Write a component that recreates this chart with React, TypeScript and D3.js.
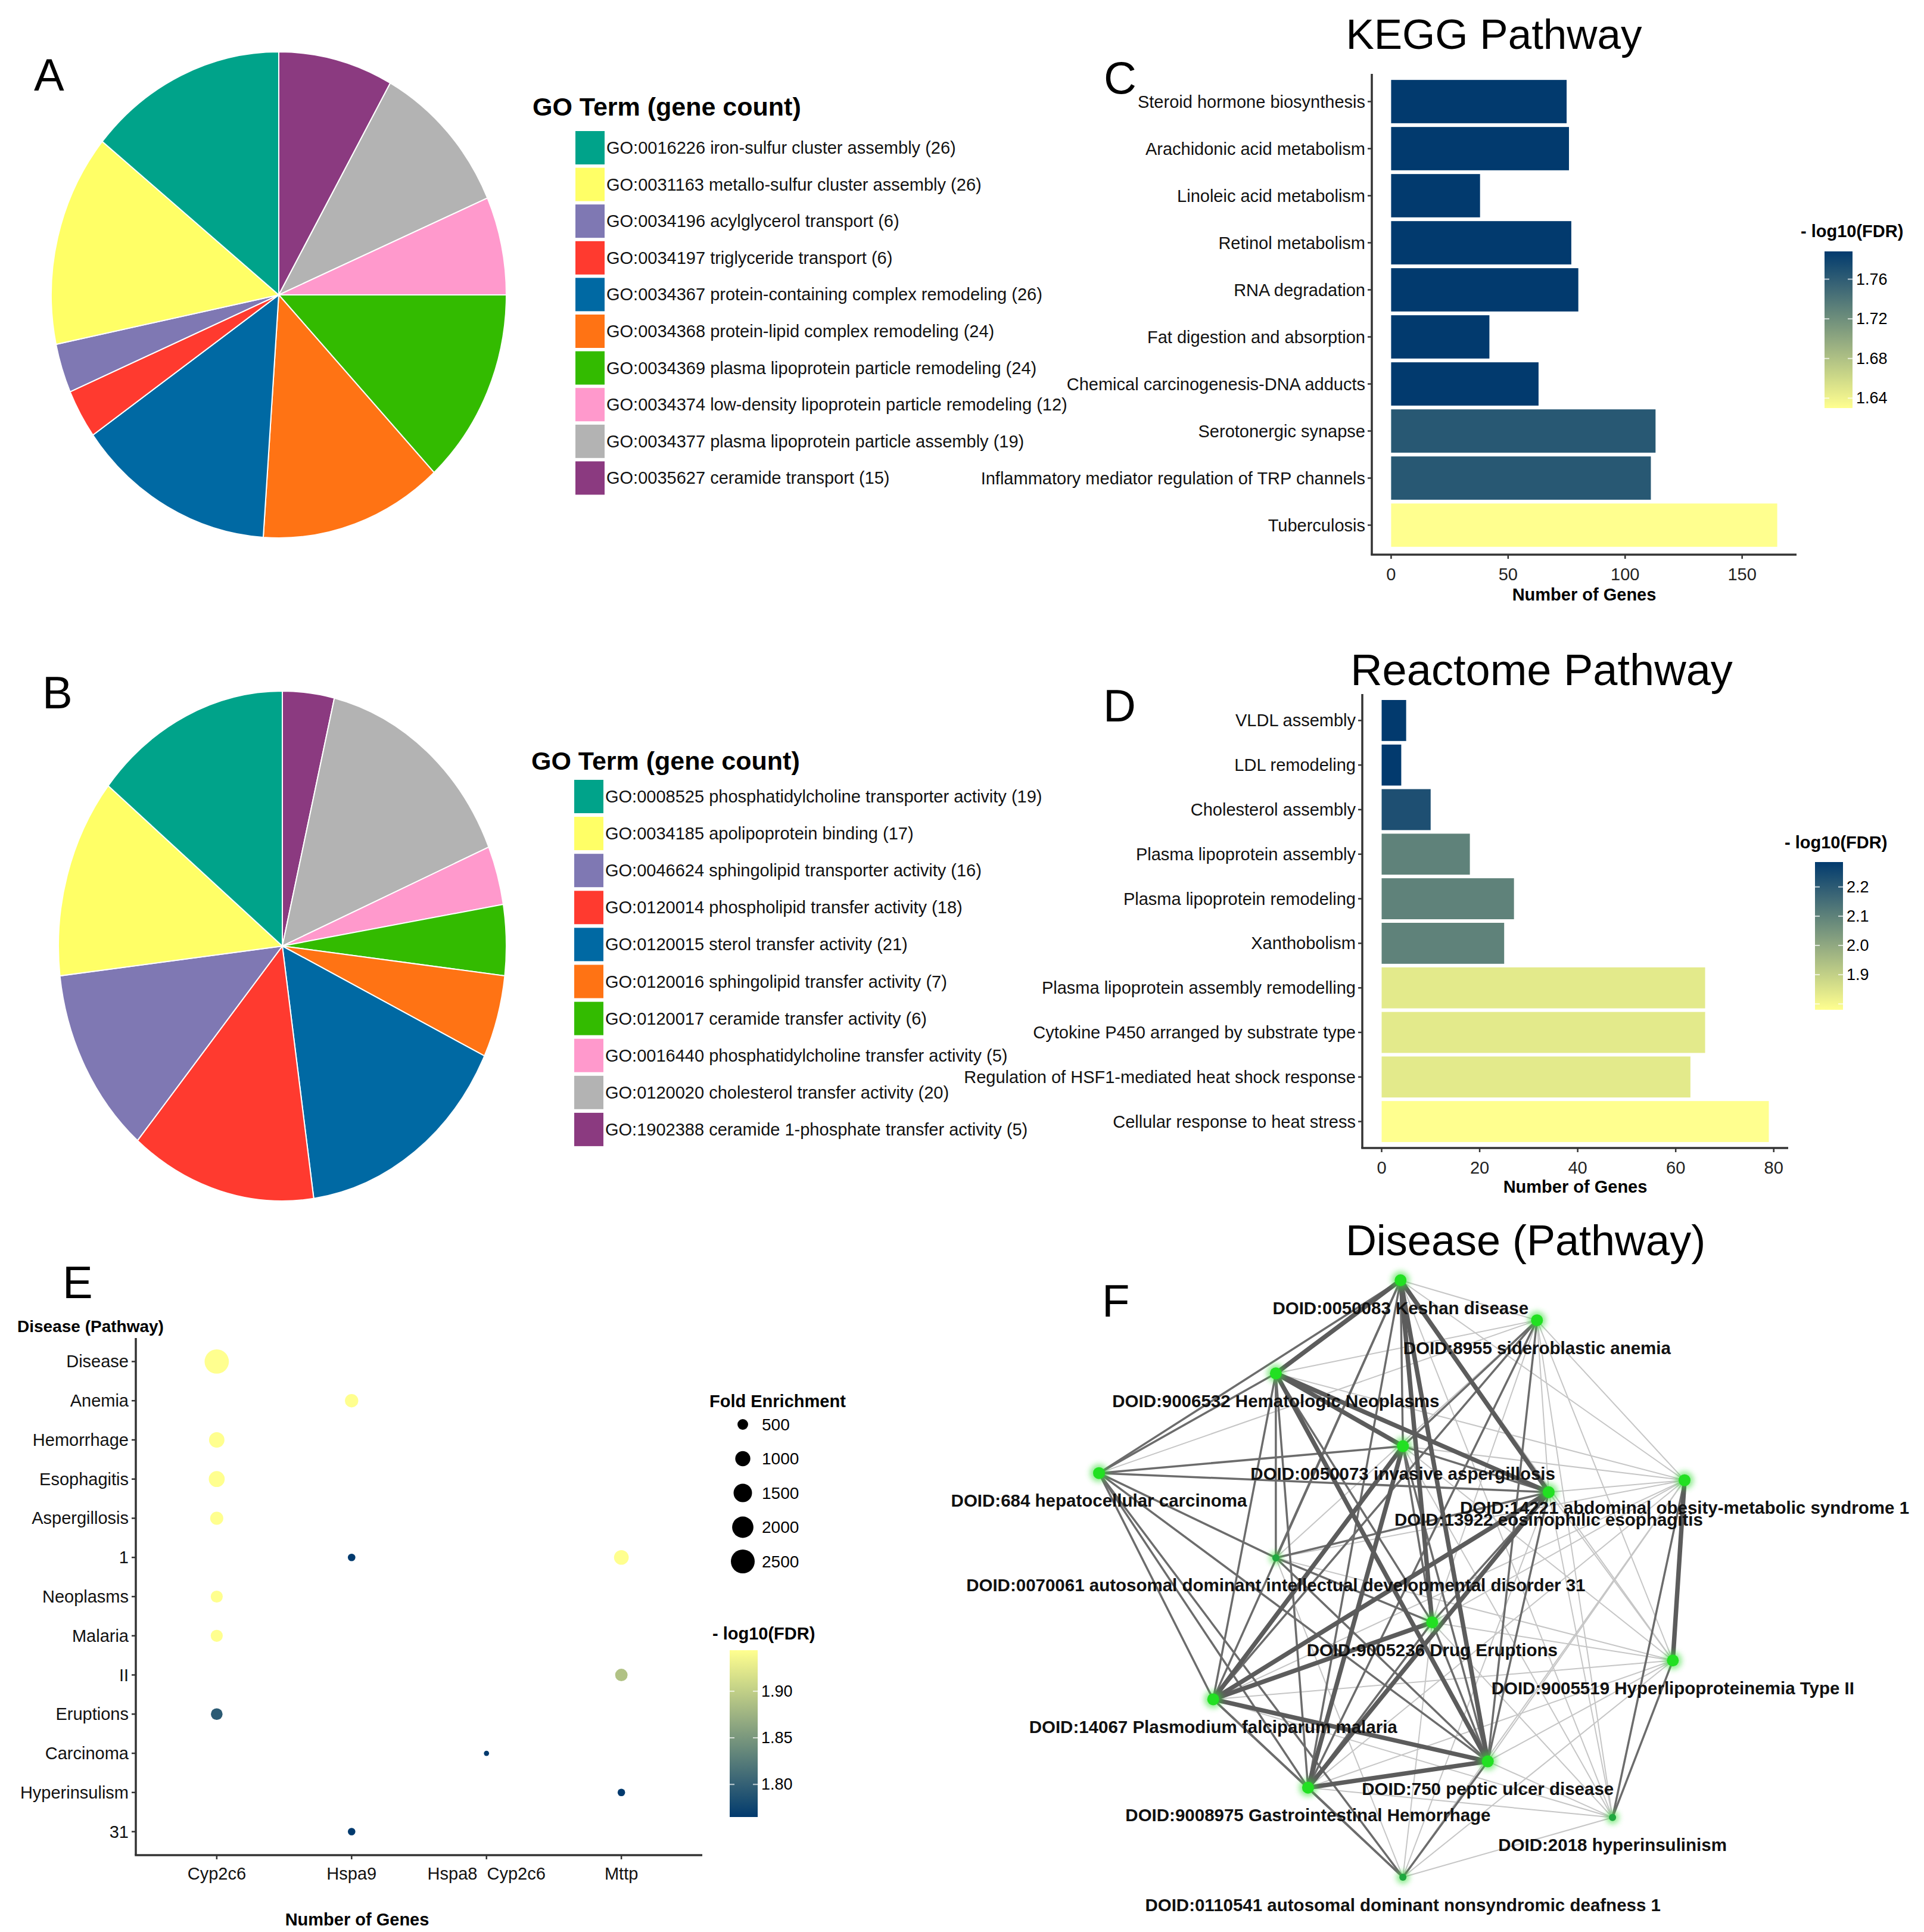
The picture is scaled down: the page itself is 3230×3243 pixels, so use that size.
import * as d3 from "d3";

const FONT = "'Liberation Sans', Arial, sans-serif";

// ---- A / B: GO term pies
const goTermsA = [
  "GO:0016226 iron-sulfur cluster assembly",
  "GO:0031163 metallo-sulfur cluster assembly",
  "GO:0034196 acylglycerol transport",
  "GO:0034197 triglyceride transport",
  "GO:0034367 protein-containing complex remodeling",
  "GO:0034368 protein-lipid complex remodeling",
  "GO:0034369 plasma lipoprotein particle remodeling",
  "GO:0034374 low-density lipoprotein particle remodeling",
  "GO:0034377 plasma lipoprotein particle assembly",
  "GO:0035627 ceramide transport",
];
const goCountsA = [26, 26, 6, 6, 26, 24, 24, 12, 19, 15];

const goTermsB = [
  "GO:0008525 phosphatidylcholine transporter activity",
  "GO:0034185 apolipoprotein binding",
  "GO:0046624 sphingolipid transporter activity",
  "GO:0120014 phospholipid transfer activity",
  "GO:0120015 sterol transfer activity",
  "GO:0120016 sphingolipid transfer activity",
  "GO:0120017 ceramide transfer activity",
  "GO:0016440 phosphatidylcholine transfer activity",
  "GO:0120020 cholesterol transfer activity",
  "GO:1902388 ceramide 1-phosphate transfer activity",
];
const goCountsB = [19, 17, 16, 18, 21, 7, 6, 5, 20, 5];

const pieColors = ["#00a38a", "#ffff66", "#7f78b3", "#ff3a2f", "#0069a3", "#ff7314", "#33bb00", "#ff99cc", "#b3b3b3", "#8b3a80"];

// ---- C: KEGG
const keggPathways = [
  "Steroid hormone biosynthesis",
  "Arachidonic acid metabolism",
  "Linoleic acid metabolism",
  "Retinol metabolism",
  "RNA degradation",
  "Fat digestion and absorption",
  "Chemical carcinogenesis-DNA adducts",
  "Serotonergic synapse",
  "Inflammatory mediator regulation of TRP channels",
  "Tuberculosis",
];
const keggGenes = [75, 76, 38, 77, 80, 42, 63, 113, 111, 165];
const keggFdr = [1.788, 1.788, 1.788, 1.788, 1.788, 1.788, 1.788, 1.764, 1.764, 1.63];
const keggTicks = [0, 50, 100, 150];
const keggFdrTicks = [1.64, 1.68, 1.72, 1.76];

// ---- D: Reactome
const reactomePathways = [
  "VLDL assembly",
  "LDL remodeling",
  "Cholesterol assembly",
  "Plasma lipoprotein assembly",
  "Plasma lipoprotein remodeling",
  "Xanthobolism",
  "Plasma lipoprotein assembly remodelling",
  "Cytokine P450 arranged by substrate type",
  "Regulation of HSF1-mediated heat shock response",
  "Cellular response to heat stress",
];
const reactomeGenes = [5, 4, 10, 18, 27, 25, 66, 66, 63, 79];
const reactomeFdr = [2.285, 2.285, 2.23, 2.1, 2.1, 2.1, 1.835, 1.835, 1.835, 1.78];
const reactomeTicks = [0, 20, 40, 60, 80];
const reactomeFdrTicks = [1.9, 2.0, 2.1, 2.2];

// ---- E: disease dot plot
const diseaseTerms = ["Disease", "Anemia", "Hemorrhage", "Esophagitis", "Aspergillosis", "1", "Neoplasms", "Malaria", "II", "Eruptions", "Carcinoma", "Hyperinsulism", "31"];
const diseaseGenes = ["Cyp2c6", "Hspa9", "Hspa8  Cyp2c6", "Mttp"];
const dotTerm = ["Disease", "Anemia", "Hemorrhage", "Esophagitis", "Aspergillosis", "1", "1", "Neoplasms", "Malaria", "II", "Eruptions", "Carcinoma", "Hyperinsulism", "31"];
const dotGene = ["Cyp2c6", "Hspa9", "Cyp2c6", "Cyp2c6", "Cyp2c6", "Hspa9", "Mttp", "Cyp2c6", "Cyp2c6", "Mttp", "Cyp2c6", "Hspa8  Cyp2c6", "Mttp", "Hspa9"];
const dotFold = [2600, 780, 1050, 1120, 760, 250, 950, 640, 640, 680, 600, 120, 250, 250];
const dotFdr = [1.944, 1.944, 1.944, 1.944, 1.944, 1.765, 1.944, 1.944, 1.944, 1.889, 1.795, 1.765, 1.765, 1.765];
const foldTicks = [500, 1000, 1500, 2000, 2500];
const dotFdrTicks = [1.8, 1.85, 1.9];

// ---- F: disease network (layout units 0-100)
const netNames = [
  "DOID:0050083 Keshan disease",
  "DOID:8955 sideroblastic anemia",
  "DOID:9006532 Hematologic Neoplasms",
  "DOID:0050073 invasive aspergillosis",
  "DOID:684 hepatocellular carcinoma",
  "DOID:14221 abdominal obesity-metabolic syndrome 1",
  "DOID:13922 eosinophilic esophagitis",
  "DOID:0070061 autosomal dominant intellectual developmental disorder 31",
  "DOID:9005236 Drug Eruptions",
  "DOID:9005519 Hyperlipoproteinemia Type II",
  "DOID:14067 Plasmodium falciparum malaria",
  "DOID:750 peptic ulcer disease",
  "DOID:9008975 Gastrointestinal Hemorrhage",
  "DOID:2018 hyperinsulinism",
  "DOID:0110541 autosomal dominant nonsyndromic deafness 1",
];
const netLayoutX = [51.5, 74.8, 30.2, 51.9, 0, 100, 76.8, 30.2, 56.9, 98, 19.5, 66.4, 35.7, 87.7, 51.9];
const netLayoutY = [0, 6.7, 15.6, 27.8, 32.3, 33.5, 35.5, 46.5, 57.3, 63.7, 70.2, 80.6, 85, 90, 100];
const netMinor = [7, 13, 14];
// [source, target, strength]
const netEdges: [number, number, number][] = [
  [5, 0, 1], [5, 1, 1], [5, 2, 1], [5, 3, 1], [5, 6, 1], [5, 8, 1], [5, 10, 1], [5, 11, 1], [5, 12, 1], [5, 7, 1],
  [9, 0, 1], [9, 1, 1], [9, 3, 1], [9, 6, 1], [9, 8, 1], [9, 10, 1], [9, 11, 1], [9, 12, 1], [9, 14, 1], [9, 7, 1],
  [13, 1, 1], [13, 3, 1], [13, 6, 1], [13, 8, 1], [13, 10, 1], [13, 11, 1], [13, 12, 1], [13, 14, 1], [13, 0, 1],
  [14, 6, 1], [14, 8, 1], [14, 7, 1], [1, 2, 1], [1, 4, 1], [1, 7, 1], [1, 8, 1], [1, 6, 1], [0, 1, 1], [5, 14, 1],
  [4, 0, 2], [4, 2, 2], [4, 3, 2], [4, 6, 2], [4, 7, 2], [4, 10, 2], [4, 12, 2], [4, 11, 2], [4, 14, 2],
  [0, 3, 2], [0, 12, 2], [0, 10, 2], [2, 10, 2], [2, 12, 2], [2, 8, 2], [3, 11, 2], [3, 8, 2], [3, 6, 2],
  [1, 3, 2], [1, 10, 2], [1, 12, 2], [1, 11, 2], [6, 8, 2], [6, 11, 2], [6, 7, 2], [7, 11, 2], [7, 8, 2],
  [8, 12, 2], [8, 11, 2], [10, 12, 2], [10, 14, 2], [11, 14, 2], [12, 14, 2], [5, 13, 2], [9, 13, 2], [0, 7, 2], [2, 7, 2],
  [0, 2, 3], [0, 8, 3], [0, 11, 3], [0, 6, 3], [2, 3, 3], [2, 6, 3], [2, 11, 3], [3, 10, 3], [3, 12, 3],
  [6, 10, 3], [6, 12, 3], [8, 10, 3], [10, 11, 3], [11, 12, 3], [5, 9, 3],
];

const LOW = "#ffff8f";
const HIGH = "#023a6e";

function PanelLetter({ x, y, text }: { x: number; y: number; text: string }) {
  return (
    <text x={x} y={y} fontSize={76} fontFamily={FONT}>
      {text}
    </text>
  );
}

interface PieProps {
  letter: string;
  letterX: number;
  letterY: number;
  cx: number;
  cy: number;
  rx: number;
  ry: number;
  terms: string[];
  counts: number[];
  keyX: number;
  titleY: number;
  firstY: number;
  stepY: number;
}

function PiePanel(props: PieProps) {
  const { letter, letterX, letterY, cx, cy, rx, ry, terms, counts, keyX, titleY, firstY, stepY } = props;
  // ggplot polar pie: first term ends at 12 o'clock, later terms go clockwise before it
  const order = counts.map((_, i) => i).reverse();
  const arcs = d3.pie<number>().sort(null).value(i => counts[i])(order);
  const arc = d3.arc<d3.PieArcDatum<number>>().innerRadius(0).outerRadius(100);

  return (
    <g>
      <PanelLetter x={letterX} y={letterY} text={letter} />
      <g transform={`translate(${cx},${cy}) scale(${rx / 100},${ry / 100})`}>
        {arcs.map(a => (
          <path key={a.data} d={arc(a) || ""} fill={pieColors[a.data]} stroke="#fff" strokeWidth={2} vectorEffect="non-scaling-stroke" />
        ))}
      </g>
      <text x={keyX - 72} y={titleY} fontSize={43} fontWeight="bold" fontFamily={FONT}>
        GO Term (gene count)
      </text>
      {terms.map((t, i) => (
        <g key={t}>
          <rect x={keyX} y={firstY + i * stepY - 28} width={49} height={56} fill={pieColors[i]} />
          <text x={keyX + 52} y={firstY + i * stepY} dominantBaseline="central" fontSize={29} fontFamily={FONT} fill="#111">
            {`${t} (${counts[i]})`}
          </text>
        </g>
      ))}
    </g>
  );
}

interface ColorbarProps {
  id: string;
  x: number;
  top: number;
  bottom: number;
  domain: [number, number];
  color: d3.ScaleLinear<string, string>;
  ticks: number[];
  marks?: number[];
  format: string;
  titleX: number;
  titleY: number;
}

function Colorbar(props: ColorbarProps) {
  const { id, x, top, bottom, domain, color, ticks, marks, format, titleX, titleY } = props;
  const w = 47;
  const y = d3.scaleLinear().domain(domain).range([bottom, top]);
  const stops = d3.range(0, 1.0001, 0.1).map(t => ({ t, c: color(domain[0] + t * (domain[1] - domain[0])) }));
  const fmt = d3.format(format);
  return (
    <g>
      <defs>
        <linearGradient id={id} x1="0" y1="1" x2="0" y2="0">
          {stops.map(s => (
            <stop key={s.t} offset={s.t} stopColor={s.c} />
          ))}
        </linearGradient>
      </defs>
      <text x={titleX} y={titleY} fontSize={29} fontWeight="bold" fontFamily={FONT}>
        - log10(FDR)
      </text>
      <rect x={x} y={top} width={w} height={bottom - top} fill={`url(#${id})`} />
      {(marks || ticks).map(t => (
        <g key={t} stroke="#fff" strokeOpacity={0.7} strokeWidth={2}>
          <line x1={x} x2={x + 8} y1={y(t)} y2={y(t)} />
          <line x1={x + w - 8} x2={x + w} y1={y(t)} y2={y(t)} />
        </g>
      ))}
      {ticks.map(t => (
        <text key={t} x={x + w + 6} y={y(t)} dominantBaseline="central" fontSize={27} fontFamily={FONT}>
          {fmt(t)}
        </text>
      ))}
    </g>
  );
}

interface BarProps {
  id: string;
  letter: string;
  letterX: number;
  letterY: number;
  title: string;
  titleX: number;
  titleY: number;
  titleSize: number;
  names: string[];
  genes: number[];
  fdr: number[];
  ticks: number[];
  axisX: number;
  xEnd: number;
  top: number;
  bottom: number;
  bandTop: number;
  bandBottom: number;
  fdrDomain: [number, number];
  fdrTicks: number[];
  fdrMarks?: number[];
  fdrFormat: string;
  cbX: number;
  cbTop: number;
  cbBottom: number;
  cbTitleX: number;
  cbTitleY: number;
  xTitleY: number;
}

function BarPanel(p: BarProps) {
  const maxV = d3.max(p.genes) || 1;
  const x = d3.scaleLinear().domain([-0.05 * maxV, 1.05 * maxV]).range([p.axisX, p.xEnd]);
  const y = d3.scaleBand<string>().domain(p.names).range([p.bandTop, p.bandBottom]).paddingInner(0.08).paddingOuter(0.04);
  const color = d3.scaleLinear<string>().domain(p.fdrDomain).range([LOW, HIGH]).interpolate(d3.interpolateRgb);

  return (
    <g fontFamily={FONT}>
      <PanelLetter x={p.letterX} y={p.letterY} text={p.letter} />
      <text x={p.titleX} y={p.titleY} fontSize={p.titleSize} textAnchor="middle">
        {p.title}
      </text>
      {p.names.map((n, i) => (
        <rect key={n} x={x(0)} y={y(n)} width={x(p.genes[i]) - x(0)} height={y.bandwidth()} fill={color(p.fdr[i])} />
      ))}
      <g stroke="#333" strokeWidth={3.5}>
        <line x1={p.axisX} x2={p.axisX} y1={p.top} y2={p.bottom} />
        <line x1={p.axisX - 1.75} x2={p.xEnd} y1={p.bottom} y2={p.bottom} />
      </g>
      {p.names.map(n => (
        <g key={n}>
          <line x1={p.axisX - 7} x2={p.axisX} y1={(y(n) || 0) + y.bandwidth() / 2} y2={(y(n) || 0) + y.bandwidth() / 2} stroke="#333" strokeWidth={2.5} />
          <text x={p.axisX - 11} y={(y(n) || 0) + y.bandwidth() / 2} textAnchor="end" dominantBaseline="central" fontSize={29} fill="#111">
            {n}
          </text>
        </g>
      ))}
      {p.ticks.map(t => (
        <g key={t}>
          <line x1={x(t)} x2={x(t)} y1={p.bottom} y2={p.bottom + 7} stroke="#333" strokeWidth={2.5} />
          <text x={x(t)} y={p.bottom + 33} textAnchor="middle" dominantBaseline="central" fontSize={29} fill="#222">
            {t}
          </text>
        </g>
      ))}
      <text x={(p.axisX + p.xEnd) / 2} y={p.xTitleY} textAnchor="middle" fontSize={29} fontWeight="bold">
        Number of Genes
      </text>
      <Colorbar
        id={p.id}
        x={p.cbX}
        top={p.cbTop}
        bottom={p.cbBottom}
        domain={p.fdrDomain}
        color={color}
        ticks={p.fdrTicks}
        marks={p.fdrMarks}
        format={p.fdrFormat}
        titleX={p.cbTitleX}
        titleY={p.cbTitleY}
      />
    </g>
  );
}

function DotPanel() {
  const axisX = 228;
  const axisY = 3114;
  const xEnd = 1179;
  const top = 2246;
  const x = d3.scalePoint<string>().domain(diseaseGenes).range([axisX, xEnd]).padding(0.6);
  const y = d3.scalePoint<string>().domain(diseaseTerms).range([top, axisY]).padding(0.6);
  const r = d3.scaleSqrt().domain([0, 2500]).range([0, 20]);
  const fdrDomain: [number, number] = [1.765, 1.944];
  const color = d3.scaleLinear<string>().domain(fdrDomain).range([HIGH, LOW]).interpolate(d3.interpolateRgb);
  const legendY = d3.scalePoint<number>().domain(foldTicks).range([2391, 2621]);

  return (
    <g fontFamily={FONT}>
      <PanelLetter x={105} y={2179} text="E" />
      <text x={29} y={2236} fontSize={28} fontWeight="bold">
        Disease (Pathway)
      </text>
      <g stroke="#333" strokeWidth={3.5}>
        <line x1={axisX} x2={axisX} y1={top} y2={axisY} />
        <line x1={axisX - 1.75} x2={xEnd} y1={axisY} y2={axisY} />
      </g>
      {diseaseTerms.map(t => (
        <g key={t}>
          <line x1={axisX - 7} x2={axisX} y1={y(t)} y2={y(t)} stroke="#333" strokeWidth={2.5} />
          <text x={axisX - 12} y={y(t)} textAnchor="end" dominantBaseline="central" fontSize={29} fill="#111">
            {t}
          </text>
        </g>
      ))}
      {diseaseGenes.map(g => (
        <g key={g}>
          <line x1={x(g)} x2={x(g)} y1={axisY} y2={axisY + 7} stroke="#333" strokeWidth={2.5} />
          <text x={x(g)} y={axisY + 31} textAnchor="middle" dominantBaseline="central" fontSize={29} fill="#111" style={{ whiteSpace: "pre" }}>
            {g}
          </text>
        </g>
      ))}
      <text x={(axisX + xEnd) / 2 - 104} y={3232} textAnchor="middle" fontSize={29} fontWeight="bold">
        Number of Genes
      </text>
      {dotTerm.map((t, i) => (
        <circle key={i} cx={x(dotGene[i])} cy={y(t)} r={r(dotFold[i])} fill={color(dotFdr[i])} />
      ))}
      <text x={1191} y={2362} fontSize={29} fontWeight="bold">
        Fold Enrichment
      </text>
      {foldTicks.map(f => (
        <g key={f}>
          <circle cx={1247} cy={legendY(f)} r={r(f)} fill="#000" />
          <text x={1279} y={legendY(f)} dominantBaseline="central" fontSize={28}>
            {f}
          </text>
        </g>
      ))}
      <Colorbar
        id="cb-e"
        x={1225}
        top={2770}
        bottom={3050}
        domain={fdrDomain}
        color={color}
        ticks={dotFdrTicks}
        format=".2f"
        titleX={1196}
        titleY={2752}
      />
    </g>
  );
}

function NetworkPanel() {
  const x = d3.scaleLinear().domain([0, 100]).range([1845, 2828]);
  const y = d3.scaleLinear().domain([0, 100]).range([2149, 3151]);
  const edgeStroke = ["", "#c6c6c6", "#6c6c6c", "#5c5c5c"];
  const edgeWidth = [0, 2, 3.5, 7.5];
  const sorted = [...netEdges].sort((a, b) => a[2] - b[2]);

  return (
    <g fontFamily={FONT}>
      <defs>
        <filter id="glow" x="-1" y="-1" width="3" height="3">
          <feGaussianBlur stdDeviation="5" />
        </filter>
      </defs>
      <text x={2561} y={2107} fontSize={72} textAnchor="middle">
        Disease (Pathway)
      </text>
      <PanelLetter x={1850} y={2210} text="F" />
      {sorted.map(([s, t, w], i) => (
        <line
          key={i}
          x1={x(netLayoutX[s])}
          y1={y(netLayoutY[s])}
          x2={x(netLayoutX[t])}
          y2={y(netLayoutY[t])}
          stroke={edgeStroke[w]}
          strokeWidth={edgeWidth[w]}
          strokeLinecap="round"
        />
      ))}
      {netNames.map((n, i) => {
        const minor = netMinor.includes(i);
        return (
          <g key={n}>
            <circle cx={x(netLayoutX[i])} cy={y(netLayoutY[i])} r={minor ? 11 : 15} fill="#33dd33" opacity={0.55} filter="url(#glow)" />
            <circle cx={x(netLayoutX[i])} cy={y(netLayoutY[i])} r={minor ? 6 : 10} fill={minor ? "#1fa83f" : "#22e022"} />
          </g>
        );
      })}
      {netNames.map((n, i) => (
        <text
          key={n}
          x={x(netLayoutX[i])}
          y={y(netLayoutY[i]) + 46}
          textAnchor="middle"
          dominantBaseline="central"
          fontSize={29.5}
          fontWeight="bold"
          fill="#111"
        >
          {n}
        </text>
      ))}
    </g>
  );
}

export default function App() {
  return (
    <svg width={3230} height={3243} style={{ position: "absolute", left: 0, top: 0, background: "#fff" }}>
      <rect width={3230} height={3243} fill="#fff" />
      <PiePanel letter="A" letterX={57} letterY={152} cx={468} cy={495} rx={382} ry={408}
        terms={goTermsA} counts={goCountsA} keyX={966} titleY={194} firstY={248} stepY={61.6} />
      <PiePanel letter="B" letterX={71} letterY={1189} cx={474} cy={1588} rx={376} ry={428}
        terms={goTermsB} counts={goCountsB} keyX={964} titleY={1292} firstY={1337} stepY={62.1} />
      <BarPanel
        id="cb-c" letter="C" letterX={1853} letterY={157}
        title="KEGG Pathway" titleX={2508} titleY={82} titleSize={71}
        names={keggPathways} genes={keggGenes} fdr={keggFdr} ticks={keggTicks}
        axisX={2303} xEnd={3016} top={124} bottom={931} bandTop={131} bandBottom={921}
        fdrDomain={[1.63, 1.788]} fdrTicks={keggFdrTicks} fdrFormat=".2f"
        cbX={3063} cbTop={422} cbBottom={685} cbTitleX={3023} cbTitleY={398} xTitleY={1008}
      />
      <BarPanel
        id="cb-d" letter="D" letterX={1852} letterY={1211}
        title="Reactome Pathway" titleX={2588} titleY={1150} titleSize={74}
        names={reactomePathways} genes={reactomeGenes} fdr={reactomeFdr} ticks={reactomeTicks}
        axisX={2287} xEnd={3002} top={1165} bottom={1927} bandTop={1172} bandBottom={1920}
        fdrDomain={[1.78, 2.285]} fdrTicks={reactomeFdrTicks} fdrMarks={[1.8, 1.9, 2.0, 2.1, 2.2]} fdrFormat=".1f"
        cbX={3047} cbTop={1447} cbBottom={1695} cbTitleX={2996} cbTitleY={1424} xTitleY={2002}
      />
      <DotPanel />
      <NetworkPanel />
    </svg>
  );
}
